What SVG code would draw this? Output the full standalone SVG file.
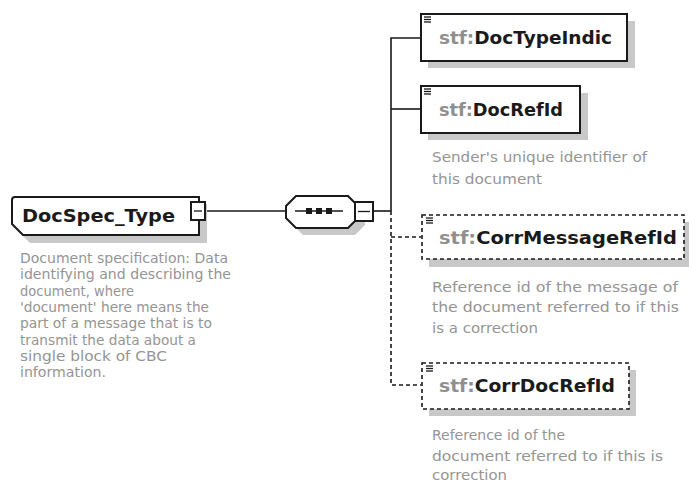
<svg xmlns="http://www.w3.org/2000/svg" width="689" height="481" viewBox="0 0 689 481">
<style>
.bg{fill:#ffffff}
.shadow{fill:#c8c8c8;stroke:none}
.box{fill:#ffffff;stroke:#1a1a1a;stroke-width:2}
.dbox{fill:#ffffff;stroke:#1a1a1a;stroke-width:1.6;stroke-dasharray:4,3}
.ln{fill:none;stroke:#1a1a1a;stroke-width:1.6}
.dln{fill:none;stroke:#1a1a1a;stroke-width:1.6;stroke-dasharray:4,3}
.lbl{font-family:"DejaVu Sans",sans-serif;font-weight:bold;font-size:18px;fill:#1a1a1a}
.pfx{fill:#8f8f8f}
.desc{font-family:"DejaVu Sans","Noto Sans",sans-serif;font-size:14px;fill:#959595}
.rdesc{font-size:14.5px}
.icon{stroke:#1a1a1a;stroke-width:1.3}
</style>
<rect class="bg" x="0" y="0" width="689" height="481"/>

<g id="connectors">
  <line class="ln" x1="205" y1="211" x2="286" y2="211"/>
  <line class="ln" x1="373" y1="211" x2="391" y2="211"/>
  <polyline class="ln" points="421,38 391,38 391,211"/>
  <line class="ln" x1="391" y1="109" x2="421" y2="109"/>
  <polyline class="dln" points="391,211 391,385 421,385"/>
  <line class="dln" x1="391" y1="237" x2="421" y2="237"/>
</g>

<g id="DocSpec_Type">
  <path class="shadow" d="M20,204 H207 V243 H30 L20,233 Z"/>
  <path class="box" d="M15,197 H199 V235 H23 L12,224 V200 Q12,197 15,197 Z"/>
  <text class="lbl" x="22" y="222" font-size="19" textLength="153" lengthAdjust="spacingAndGlyphs">DocSpec_Type</text>
  <rect x="191" y="202" width="14" height="18" fill="#ffffff" stroke="#1a1a1a" stroke-width="2"/>
  <line class="icon" x1="194" y1="211" x2="202" y2="211"/>
  <g class="desc">
    <text x="20" y="263" textLength="208" lengthAdjust="spacingAndGlyphs">Document specification: Data</text>
    <text x="20" y="279.3" textLength="211" lengthAdjust="spacingAndGlyphs">identifying and describing the</text>
    <text x="20" y="295.6" textLength="114" lengthAdjust="spacingAndGlyphs">document, where</text>
    <text x="20" y="311.9" textLength="189" lengthAdjust="spacingAndGlyphs">'document' here means the</text>
    <text x="20" y="328.2" textLength="192" lengthAdjust="spacingAndGlyphs">part of a message that is to</text>
    <text x="20" y="344.5" textLength="176" lengthAdjust="spacingAndGlyphs">transmit the data about a</text>
    <text x="20" y="360.8" textLength="147" lengthAdjust="spacingAndGlyphs">single block of CBC</text>
    <text x="20" y="377.1" textLength="86" lengthAdjust="spacingAndGlyphs">information.</text>
  </g>
</g>

<g id="sequence">
  <polygon class="shadow" points="303,203 355,203 365,213 365,225 355,235 303,235 293,225 293,213"/>
  <polygon class="box" points="296,196 348,196 358,206 358,218 348,228 296,228 286,218 286,206"/>
  <line x1="295" y1="211" x2="343" y2="211" stroke="#1a1a1a" stroke-width="1.5"/>
  <rect x="306" y="208" width="6" height="6" fill="#1a1a1a"/>
  <rect x="316" y="208" width="6" height="6" fill="#1a1a1a"/>
  <rect x="326" y="208" width="6" height="6" fill="#1a1a1a"/>
  <rect x="355" y="202" width="18" height="19" fill="#ffffff" stroke="#1a1a1a" stroke-width="2"/>
  <line class="icon" x1="358" y1="211.5" x2="370" y2="211.5"/>
</g>

<g id="DocTypeIndic">
  <rect class="shadow" x="428" y="21" width="207" height="47"/>
  <rect class="box" x="421" y="14" width="206" height="47"/>
  <g class="icon"><line x1="424" y1="17" x2="431" y2="17"/><line x1="424" y1="19.5" x2="431" y2="19.5"/><line x1="424" y1="22" x2="431" y2="22"/></g>
  <text class="lbl" x="439" y="44" textLength="173" lengthAdjust="spacingAndGlyphs"><tspan class="pfx">stf:</tspan>DocTypeIndic</text>
</g>

<g id="DocRefId">
  <rect class="shadow" x="428" y="93" width="160" height="47"/>
  <rect class="box" x="421" y="86" width="159" height="47"/>
  <g class="icon"><line x1="424" y1="89" x2="431" y2="89"/><line x1="424" y1="91.5" x2="431" y2="91.5"/><line x1="424" y1="94" x2="431" y2="94"/></g>
  <text class="lbl" x="439" y="116" textLength="124" lengthAdjust="spacingAndGlyphs"><tspan class="pfx">stf:</tspan>DocRefId</text>
  <g class="desc rdesc">
    <text x="432" y="162" textLength="215" lengthAdjust="spacingAndGlyphs">Sender's unique identifier of</text>
    <text x="432" y="184" textLength="110" lengthAdjust="spacingAndGlyphs">this document</text>
  </g>
</g>

<g id="CorrMessageRefId">
  <rect class="shadow" x="429" y="222" width="262" height="45"/>
  <rect class="dbox" x="422" y="215" width="262" height="44"/>
  <g class="icon"><line x1="426" y1="218" x2="433" y2="218"/><line x1="426" y1="220.5" x2="433" y2="220.5"/><line x1="426" y1="223" x2="433" y2="223"/></g>
  <text class="lbl" x="439" y="244" textLength="238" lengthAdjust="spacingAndGlyphs"><tspan class="pfx">stf:</tspan>CorrMessageRefId</text>
  <g class="desc rdesc">
    <text x="432" y="292" textLength="246" lengthAdjust="spacingAndGlyphs">Reference id of the message of</text>
    <text x="432" y="312" textLength="247" lengthAdjust="spacingAndGlyphs">the document referred to if this</text>
    <text x="432" y="333" textLength="106" lengthAdjust="spacingAndGlyphs">is a correction</text>
  </g>
</g>

<g id="CorrDocRefId">
  <rect class="shadow" x="429" y="370" width="207" height="46"/>
  <rect class="dbox" x="422" y="363" width="207" height="46"/>
  <g class="icon"><line x1="426" y1="366" x2="433" y2="366"/><line x1="426" y1="368.5" x2="433" y2="368.5"/><line x1="426" y1="371" x2="433" y2="371"/></g>
  <text class="lbl" x="439" y="392" textLength="176" lengthAdjust="spacingAndGlyphs"><tspan class="pfx">stf:</tspan>CorrDocRefId</text>
  <g class="desc rdesc">
    <text x="432" y="440" textLength="133" lengthAdjust="spacingAndGlyphs">Reference id of the</text>
    <text x="432" y="461" textLength="231" lengthAdjust="spacingAndGlyphs">document referred to if this is</text>
    <text x="432" y="480" textLength="75" lengthAdjust="spacingAndGlyphs">correction</text>
  </g>
</g>
</svg>
